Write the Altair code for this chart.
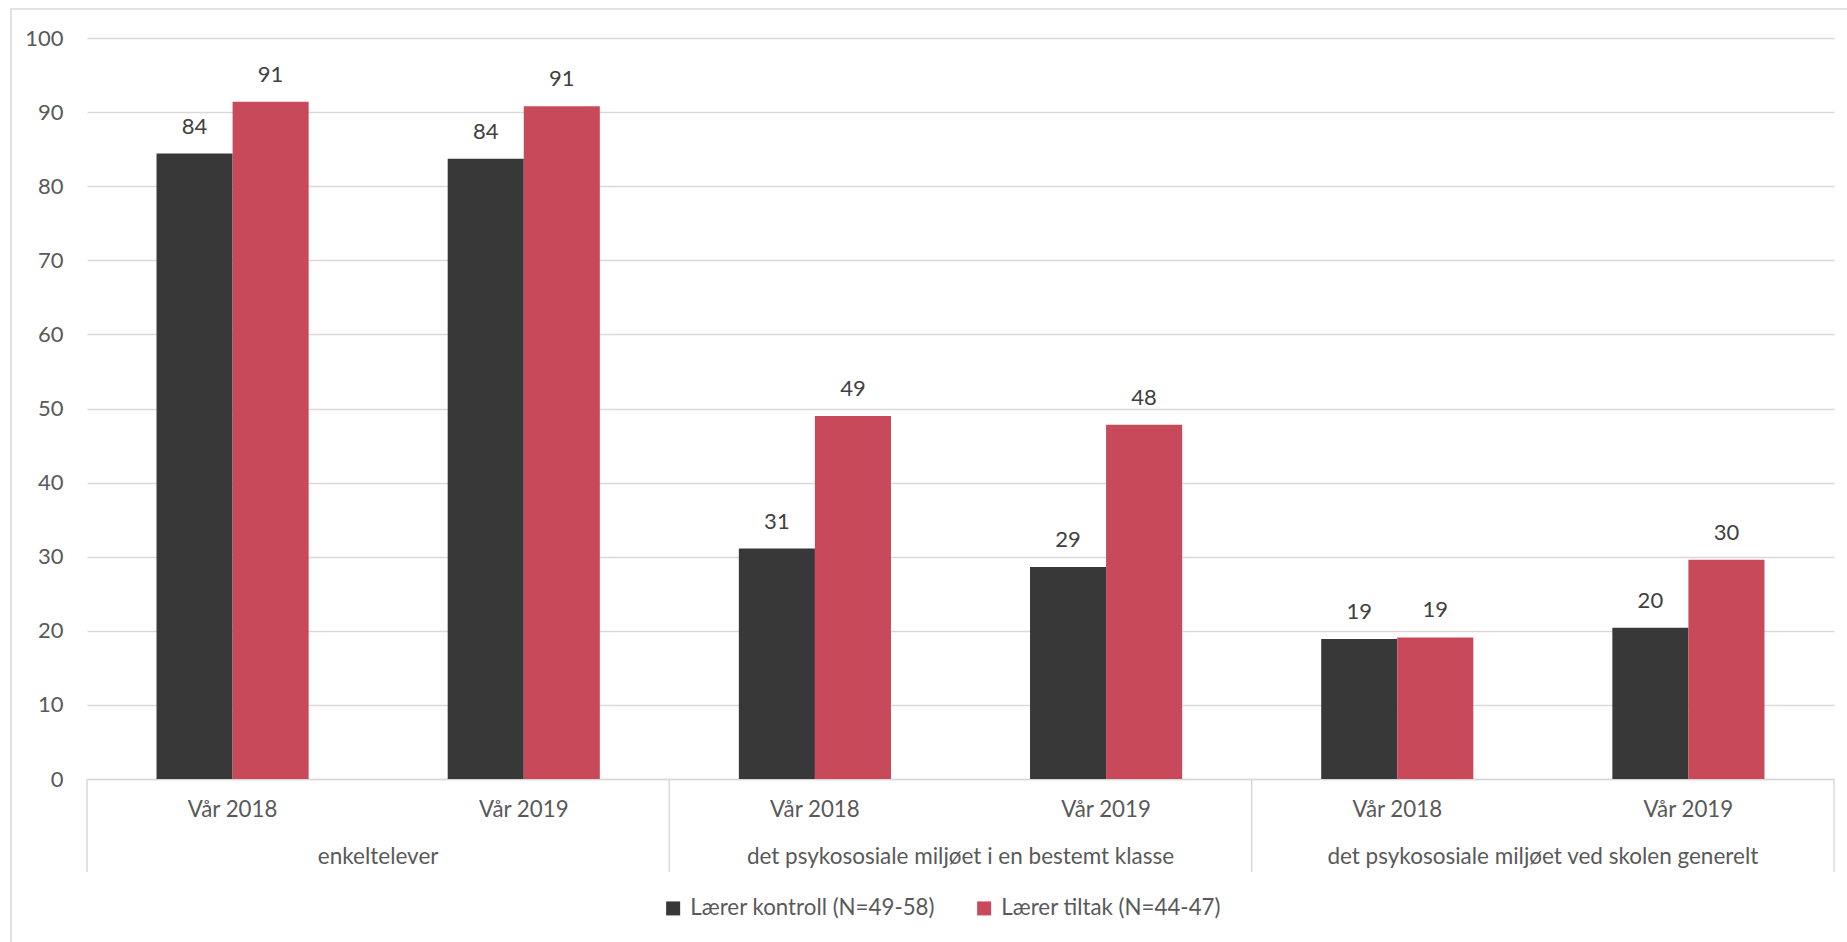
import altair as alt
import pandas as pd

groups = ["enkeltelever",
          "det psykososiale miljøet i en bestemt klasse",
          "det psykososiale miljøet ved skolen generelt"]
years = ["Vår 2018", "Vår 2019"]
series = ["Lærer kontroll (N=49-58)", "Lærer tiltak (N=44-47)"]
kontroll = [84.4, 83.7, 31.1, 28.6, 18.9, 20.4]
tiltak = [91.4, 90.8, 49.0, 47.8, 19.1, 29.6]
labels_k = [84, 84, 31, 29, 19, 20]
labels_t = [91, 91, 49, 48, 19, 30]
colors = ["#383838", "#C84A5A"]

slots = [f"{gi}|{y}" for gi in range(len(groups)) for y in years]

rows = []
for i, s in enumerate(slots):
    rows.append({"slot": s, "series": series[0], "value": kontroll[i], "label": labels_k[i]})
    rows.append({"slot": s, "series": series[1], "value": tiltak[i], "label": labels_t[i]})
df = pd.DataFrame(rows)

grp_df = pd.DataFrame({"slot": [f"{gi}|{years[0]}" for gi in range(len(groups))],
                       "group": groups})
end_df = pd.DataFrame({"slot": [slots[-1]]})

FONT = "Lato"
W, H = 1747, 741

xenc = alt.X("slot:N", sort=slots,
             scale=alt.Scale(paddingInner=0, paddingOuter=0),
             axis=alt.Axis(title=None, labelExpr="split(datum.label, '|')[1]",
                           ticks=False, labelAngle=0, labelFontSize=22.3,
                           labelColor="#595959", labelPadding=19,
                           domainColor="#D9D9D9", domainWidth=1.5, grid=False))
xoff = alt.XOffset("series:N", sort=series,
                   scale=alt.Scale(paddingInner=0, paddingOuter=0.914))
yenc = alt.Y("value:Q", scale=alt.Scale(domain=[0, 100]),
             axis=alt.Axis(title=None, values=list(range(0, 101, 10)),
                           tickSize=0, domain=False, labelFontSize=22,
                           labelColor="#595959", labelPadding=24,
                           gridColor="#D9D9D9", gridWidth=1.5))

bars = alt.Chart(df).mark_bar().encode(
    x=xenc, xOffset=xoff, y=yenc,
    color=alt.Color("series:N", sort=series,
                    scale=alt.Scale(domain=series, range=colors),
                    legend=alt.Legend(title=None, orient="none", direction="horizontal",
                                      legendX=575, legendY=859, symbolType="square",
                                      symbolSize=196, symbolStrokeWidth=0,
                                      labelFontSize=22.3, labelColor="#595959",
                                      labelOffset=6, columnPadding=38,
                                      labelLimit=400))
)

texts = alt.Chart(df).mark_text(fontSize=22, color="#404040", baseline="middle", dy=-27).encode(
    x=alt.X("slot:N", sort=slots), xOffset=alt.XOffset("series:N", sort=series),
    y="value:Q", text="label:Q"
)

seps = alt.Chart(grp_df).mark_rule(color="#D9D9D9", strokeWidth=1.5).encode(
    x=alt.X("slot:N", sort=slots, bandPosition=0),
    y=alt.value(H), y2=alt.value(834)
)
sep_end = alt.Chart(end_df).mark_rule(color="#D9D9D9", strokeWidth=1.5).encode(
    x=alt.X("slot:N", sort=slots, bandPosition=1),
    y=alt.value(H), y2=alt.value(834)
)
glabels = alt.Chart(grp_df).mark_text(fontSize=22.5, color="#595959", baseline="middle").encode(
    x=alt.X("slot:N", sort=slots, bandPosition=1),
    y=alt.value(819), text="group:N"
)

frame = alt.Chart(pd.DataFrame({"a": [0]})).mark_rect(
    fillOpacity=0, stroke="#D9D9D9", strokeWidth=1.5
).encode(x=alt.value(-76), x2=alt.value(1800), y=alt.value(-29), y2=alt.value(1000))

chart = alt.layer(frame, bars, texts, seps, sep_end, glabels).properties(
    width=W, height=H,
    padding={"left": 87, "top": 38, "right": 13, "bottom": 163},
    autosize="none"
).configure(font=FONT).configure_view(stroke=None)

chart.save("out.html", embed_options={"renderer": "svg", "actions": False})
